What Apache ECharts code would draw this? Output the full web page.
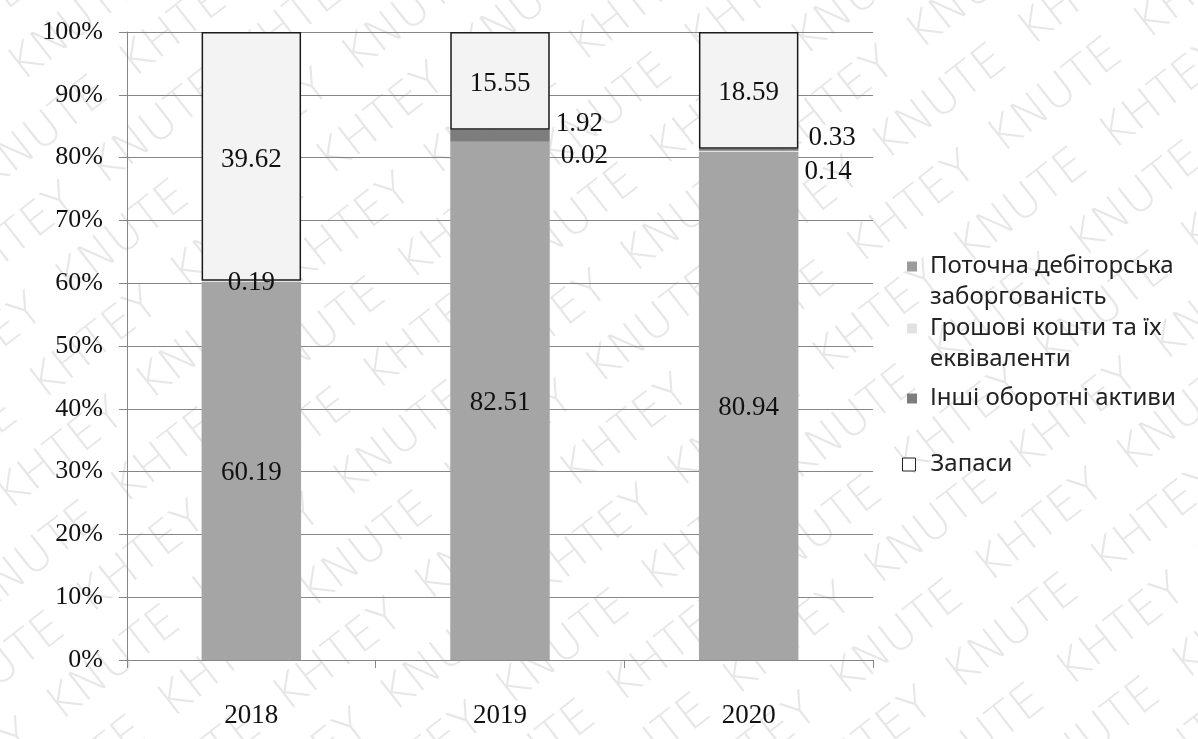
<!DOCTYPE html>
<html>
<head>
<meta charset="utf-8">
<script src="https://cdn.jsdelivr.net/npm/echarts@6/dist/echarts.min.js"></script>
<style>
  html, body { margin: 0; padding: 0; background: #fff; }
  #chart { width: 1198px; height: 739px; }
</style>
</head>
<body>
<div id="chart"></div>
<script>
// Structure of current assets by year, percent of total
const categories = ['2018', '2019', '2020'];
const receivables = [60.19, 82.51, 80.94];   // Поточна дебіторська заборгованість
const cash = [0.19, 0.02, 0.14];             // Грошові кошти та їх еквіваленти
const otherAssets = [0, 1.92, 0.33];         // Інші оборотні активи
const inventories = [39.62, 15.55, 18.59];   // Запаси
const yTickLabels = ['0%', '10%', '20%', '30%', '40%', '50%', '60%', '70%', '80%', '90%', '100%'];

const seriesNames = [
  'Поточна дебіторська\nзаборгованість',
  'Грошові кошти та їх\nеквіваленти',
  'Інші оборотні активи',
  'Запаси'
];

const SERIF = '"Liberation Serif", "Times New Roman", serif';
const SANS = '"Noto Sans", "Open Sans", sans-serif';

// label placement for the thin segments (drawn beside the bar)
const cashLabelPlace = [
  { position: 'inside', offset: [0, 1] },
  { position: 'right', offset: [6, 14] },
  { position: 'right', offset: [1, 21] }
];
const otherLabelPlace = [
  { position: 'inside', offset: [0, 0] },
  { position: 'right', offset: [1, -12] },
  { position: 'right', offset: [5, -12] }
];

function fmt(p) {
  return p.value > 0 ? p.value.toFixed(2) : '';
}

const labelBase = {
  show: true,
  color: '#111',
  fontFamily: SERIF,
  fontSize: 27,
  formatter: fmt
};

// diagonal watermark rows
const wmRows = [];
const wmText = 'KNUTE  KHTEY  '.repeat(14);
for (let k = -14; k <= 14; k++) {
  wmRows.push({
    type: 'text',
    x: -1100 + (k % 2 === 0 ? 0 : 95),
    y: k * 66,
    silent: true,
    style: {
      text: wmText,
      font: '200 46px "DejaVu Sans ExtraLight", "DejaVu Sans", sans-serif',
      fill: 'rgba(175,175,175,0.30)',
      textVerticalAlign: 'middle'
    }
  });
}

const chart = echarts.init(document.getElementById('chart'), null, { renderer: 'canvas' });

// square marker sitting level with the first text line of a two-line entry
const TOP_SQUARE = 'path://M0,0L10,0L10,10L0,10ZM0,41';

function legendAt(name, left, top, fill, opts) {
  return {
    left: left, top: top,
    padding: 0,
    orient: 'vertical',
    icon: opts.icon,
    itemWidth: opts.w,
    itemHeight: opts.h,
    selectedMode: false,
    data: [{
      name: name,
      itemStyle: opts.border
        ? { color: '#fff', borderColor: '#222', borderWidth: 1 }
        : { color: fill, borderWidth: 0 }
    }],
    textStyle: {
      fontFamily: SANS,
      fontSize: 24,
      color: '#222',
      lineHeight: 31,
      padding: [0, 0, 0, opts.pad]
    }
  };
}

const option = {
  backgroundColor: '#ffffff',
  animation: false,
  grid: { left: 127, right: 325, top: 32, bottom: 79, containLabel: false },
  legend: [
    legendAt(seriesNames[0], 907, 251, '#9c9c9c', { icon: TOP_SQUARE, w: 10, h: 41, pad: 8 }),
    legendAt(seriesNames[1], 907, 313, '#e2e2e2', { icon: TOP_SQUARE, w: 10, h: 41, pad: 8 }),
    legendAt(seriesNames[2], 907, 383, '#7d7d7d', { icon: 'rect', w: 10, h: 10, pad: 8 }),
    legendAt(seriesNames[3], 902, 449, null, { icon: 'rect', w: 13, h: 13, pad: 10, border: true })
  ],
  xAxis: {
    type: 'category',
    data: categories,
    axisLine: { lineStyle: { color: '#868686', width: 1 } },
    axisTick: { show: true, length: 8, alignWithLabel: false, lineStyle: { color: '#868686' } },
    axisLabel: { color: '#111', fontFamily: SERIF, fontSize: 27, margin: 42 }
  },
  yAxis: {
    type: 'value',
    min: 0, max: 100, interval: 10,
    axisLine: { show: true, lineStyle: { color: '#868686', width: 1 } },
    axisTick: { show: true, length: 8, lineStyle: { color: '#868686' } },
    splitLine: { show: true, lineStyle: { color: '#868686', width: 1 } },
    axisLabel: {
      color: '#111', fontFamily: SERIF, fontSize: 26, margin: 24,
      formatter: function (v) { return yTickLabels[Math.round(v / 10)]; }
    }
  },
  series: [
    {
      name: seriesNames[0], type: 'bar', stack: 'total', barWidth: '40%',
      itemStyle: { color: '#a5a5a5' },
      label: Object.assign({}, labelBase, { position: 'inside', offset: [0, 2] }),
      data: receivables
    },
    {
      name: seriesNames[1], type: 'bar', stack: 'total', barWidth: '40%',
      itemStyle: { color: '#e2e2e2' },
      label: Object.assign({}, labelBase),
      data: cash.map(function (v, i) {
        return { value: v, label: cashLabelPlace[i] };
      })
    },
    {
      name: seriesNames[2], type: 'bar', stack: 'total', barWidth: '40%',
      itemStyle: { color: '#7d7d7d' },
      label: Object.assign({}, labelBase),
      data: otherAssets.map(function (v, i) {
        return { value: v, label: otherLabelPlace[i] };
      })
    },
    {
      name: seriesNames[3], type: 'bar', stack: 'total', barWidth: '40%',
      itemStyle: { color: '#f3f3f3', borderColor: '#1a1a1a', borderWidth: 1.5 },
      label: Object.assign({}, labelBase, { position: 'inside', offset: [0, 3] }),
      data: inventories
    }
  ],
  graphic: [{
    type: 'group',
    x: 599, y: 370,
    rotation: 38 * Math.PI / 180,
    silent: true,
    z: 100,
    children: wmRows
  }]
};

chart.setOption(option);
</script>
</body>
</html>
